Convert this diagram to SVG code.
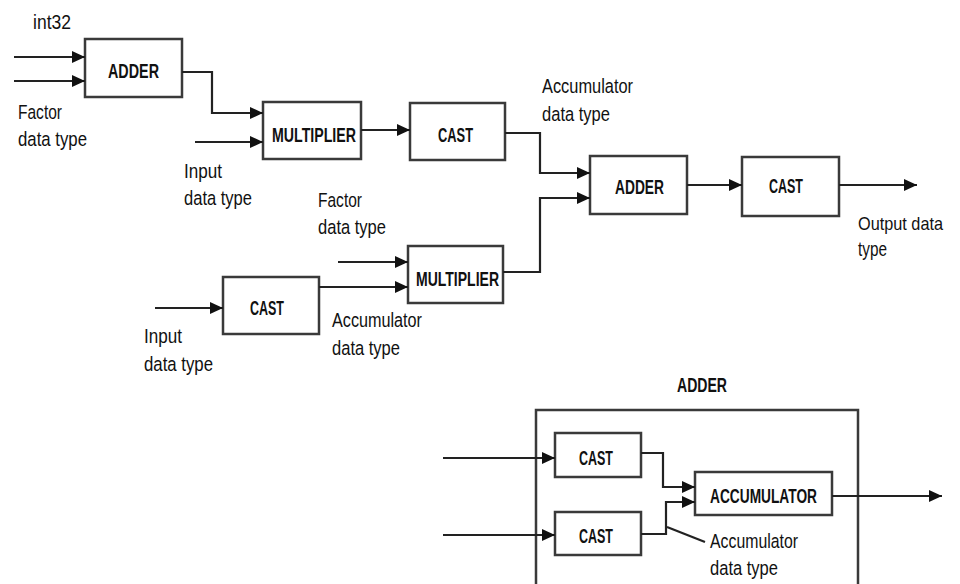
<svg xmlns="http://www.w3.org/2000/svg" width="960" height="584" viewBox="0 0 960 584">
<defs>
<style>
.box{fill:#fff;stroke:#3a3a3a;stroke-width:2.5}
.frame{fill:none;stroke:#3a3a3a;stroke-width:2.5}
.ln{fill:none;stroke:#222;stroke-width:2.2}
.lbl{font-family:"Liberation Sans Narrow","Liberation Sans",Arial,sans-serif;font-size:20.5px;fill:#111}
.bl{font-family:"Liberation Sans Narrow","Liberation Sans",Arial,sans-serif;font-size:21px;font-weight:bold;fill:#111}
</style>
<marker id="arr" markerUnits="userSpaceOnUse" markerWidth="14" markerHeight="14" refX="13" refY="7" orient="auto">
<path d="M0,1 L13,7 L0,13 z" fill="#111"/>
</marker>
</defs>
<rect width="960" height="584" fill="#fff"/>

<g id="adder1">
<rect class="box" x="85" y="39" width="97" height="58"/>
<text class="bl" x="108" y="78" textLength="51" lengthAdjust="spacingAndGlyphs">ADDER</text>
</g>
<g id="multiplier1">
<rect class="box" x="263" y="102" width="98" height="57"/>
<text class="bl" x="272" y="142" textLength="84" lengthAdjust="spacingAndGlyphs">MULTIPLIER</text>
</g>
<g id="cast1">
<rect class="box" x="410" y="103" width="95" height="57"/>
<text class="bl" x="438" y="142" textLength="35" lengthAdjust="spacingAndGlyphs">CAST</text>
</g>
<g id="adder2">
<rect class="box" x="590" y="156" width="97" height="58"/>
<text class="bl" x="615" y="194" textLength="49" lengthAdjust="spacingAndGlyphs">ADDER</text>
</g>
<g id="cast2">
<rect class="box" x="742" y="157" width="97" height="59"/>
<text class="bl" x="769" y="193" textLength="34" lengthAdjust="spacingAndGlyphs">CAST</text>
</g>
<g id="cast3">
<rect class="box" x="223" y="277" width="96" height="57"/>
<text class="bl" x="250" y="315" textLength="34" lengthAdjust="spacingAndGlyphs">CAST</text>
</g>
<g id="multiplier2">
<rect class="box" x="408" y="246" width="95" height="57"/>
<text class="bl" x="416" y="286" textLength="83" lengthAdjust="spacingAndGlyphs">MULTIPLIER</text>
</g>

<g id="adder-detail">
<path class="frame" d="M536,590 V410 H858 V590"/>
<text class="bl" x="677" y="392" textLength="50" lengthAdjust="spacingAndGlyphs">ADDER</text>
</g>
<g id="castA">
<rect class="box" x="555" y="433" width="86" height="44"/>
<text class="bl" x="579" y="465" textLength="34" lengthAdjust="spacingAndGlyphs">CAST</text>
</g>
<g id="castB">
<rect class="box" x="555" y="512" width="86" height="43"/>
<text class="bl" x="579" y="543" textLength="34" lengthAdjust="spacingAndGlyphs">CAST</text>
</g>
<g id="accumulator">
<rect class="box" x="695" y="472" width="137" height="43"/>
<text class="bl" x="710" y="503" textLength="107" lengthAdjust="spacingAndGlyphs">ACCUMULATOR</text>
</g>

<g id="connectors">
<path class="ln" d="M14,57 H85" marker-end="url(#arr)"/>
<path class="ln" d="M14,81 H85" marker-end="url(#arr)"/>
<path class="ln" d="M182,72 H212 V113 H263" marker-end="url(#arr)"/>
<path class="ln" d="M195,142 H263" marker-end="url(#arr)"/>
<path class="ln" d="M361,130 H410" marker-end="url(#arr)"/>
<path class="ln" d="M505,133 H540 V173 H590" marker-end="url(#arr)"/>
<path class="ln" d="M503,272 H540 V198 H590" marker-end="url(#arr)"/>
<path class="ln" d="M687,185 H742" marker-end="url(#arr)"/>
<path class="ln" d="M839,185 H917" marker-end="url(#arr)"/>
<path class="ln" d="M155,308 H223" marker-end="url(#arr)"/>
<path class="ln" d="M319,287 H408" marker-end="url(#arr)"/>
<path class="ln" d="M338,262 H408" marker-end="url(#arr)"/>
<path class="ln" d="M443,458 H555" marker-end="url(#arr)"/>
<path class="ln" d="M443,535 H555" marker-end="url(#arr)"/>
<path class="ln" d="M641,453 H663 V487 H695" marker-end="url(#arr)"/>
<path class="ln" d="M641,534 H666 V502 H695" marker-end="url(#arr)"/>
<path class="ln" d="M832,496 H942" marker-end="url(#arr)"/>
<path class="ln" d="M667,527 L705,542" stroke-width="1.6"/>
</g>

<g id="labels">
<text class="lbl" x="33" y="29" textLength="38" lengthAdjust="spacingAndGlyphs">int32</text>
<text class="lbl" x="18" y="119" textLength="44" lengthAdjust="spacingAndGlyphs">Factor</text>
<text class="lbl" x="18" y="146" textLength="69" lengthAdjust="spacingAndGlyphs">data type</text>
<text class="lbl" x="184" y="178" textLength="38" lengthAdjust="spacingAndGlyphs">Input</text>
<text class="lbl" x="184" y="205" textLength="68" lengthAdjust="spacingAndGlyphs">data type</text>
<text class="lbl" x="542" y="93" textLength="91" lengthAdjust="spacingAndGlyphs">Accumulator</text>
<text class="lbl" x="542" y="121" textLength="68" lengthAdjust="spacingAndGlyphs">data type</text>
<text class="lbl" x="318" y="207" textLength="44" lengthAdjust="spacingAndGlyphs">Factor</text>
<text class="lbl" x="318" y="234" textLength="68" lengthAdjust="spacingAndGlyphs">data type</text>
<text class="lbl" x="858" y="230" style="font-size:19px" textLength="85" lengthAdjust="spacingAndGlyphs">Output data</text>
<text class="lbl" x="858" y="256" textLength="29" lengthAdjust="spacingAndGlyphs">type</text>
<text class="lbl" x="144" y="343" textLength="38" lengthAdjust="spacingAndGlyphs">Input</text>
<text class="lbl" x="144" y="371" textLength="69" lengthAdjust="spacingAndGlyphs">data type</text>
<text class="lbl" x="332" y="327" textLength="90" lengthAdjust="spacingAndGlyphs">Accumulator</text>
<text class="lbl" x="332" y="355" textLength="68" lengthAdjust="spacingAndGlyphs">data type</text>
<text class="lbl" x="710" y="548" textLength="88" lengthAdjust="spacingAndGlyphs">Accumulator</text>
<text class="lbl" x="710" y="575" textLength="68" lengthAdjust="spacingAndGlyphs">data type</text>
</g>
</svg>
